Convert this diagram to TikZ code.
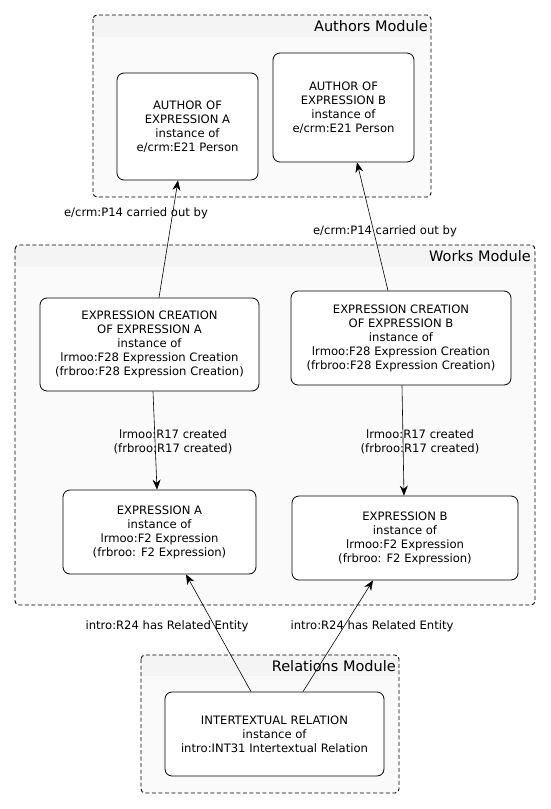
\documentclass[tikz,border=0pt]{standalone}
\usepackage{fontspec}
\setmainfont{DejaVu Sans}
\usetikzlibrary{arrows.meta}

\tikzset{
  entity/.style={draw, rounded corners=7pt, fill=white, align=center, line width=0.8pt, inner sep=2pt, font=\fontsize{11.6}{14}\selectfont},
  rel/.style={-{Stealth[length=10pt,width=8pt]}, line width=0.6pt},
  rellabel/.style={align=center, inner sep=1pt, font=\fontsize{11.6}{14}\selectfont},
  modtitle/.style={anchor=base east, inner sep=0pt, font=\fontsize{14.5}{17}\selectfont},
  modframe/.style={draw, dash pattern=on 4pt off 2.5pt, line width=0.9pt, rounded corners=4pt},
}

\begin{document}
\begin{tikzpicture}[x=1pt,y=-1pt]
      \useasboundingbox (0,0) rectangle (550,809);
      % Authors Module
      \begin{scope}
        \clip[rounded corners=4pt] (93,15) rectangle (431,197);
        \fill[gray!4] (93,15) rectangle (431,197);
        \fill[gray!9] (93,15) rectangle (431,37);
      \end{scope}
      \draw[modframe] (93,15) rectangle (431,197);
      \node[modtitle] (authorsT) at (428,31) {Authors Module};
      % Works Module
      \begin{scope}
        \clip[rounded corners=4pt] (15,245) rectangle (535,605);
        \fill[gray!4] (15,245) rectangle (535,605);
        \fill[gray!9] (15,245) rectangle (535,267);
      \end{scope}
      \draw[modframe] (15,245) rectangle (535,605);
      \node[modtitle] (worksT) at (531,261) {Works Module};
      % Relations Module
      \begin{scope}
        \clip[rounded corners=4pt] (141,655) rectangle (399,793);
        \fill[gray!4] (141,655) rectangle (399,793);
        \fill[gray!9] (141,655) rectangle (399,676);
      \end{scope}
      \draw[modframe] (141,655) rectangle (399,793);
      \node[modtitle] (relationsT) at (396,671) {Relations Module};

      \node[entity, minimum width=141pt, minimum height=107pt] (authorA) at (187.5,126.5)
        {AUTHOR OF\\EXPRESSION A\\instance of\\e/crm:E21 Person};
      \node[entity, minimum width=141pt, minimum height=109pt] (authorB) at (343.5,107.5)
        {AUTHOR OF\\EXPRESSION B\\instance of\\e/crm:E21 Person};
      \node[entity, minimum width=219pt, minimum height=93pt] (creaA) at (149.5,344.5)
        {EXPRESSION CREATION\\OF EXPRESSION A\\instance of\\lrmoo:F28 Expression Creation\\(frbroo:F28 Expression Creation)};
      \node[entity, minimum width=220pt, minimum height=94pt] (creaB) at (401,338)
        {EXPRESSION CREATION\\OF EXPRESSION B\\instance of\\lrmoo:F28 Expression Creation\\(frbroo:F28 Expression Creation)};
      \node[entity, minimum width=193pt, minimum height=84pt] (exprA) at (159.5,532)
        {EXPRESSION A\\instance of\\lrmoo:F2 Expression\\(frbroo: F2 Expression)};
      \node[entity, minimum width=226pt, minimum height=84pt] (exprB) at (405,538)
        {EXPRESSION B\\instance of\\lrmoo:F2 Expression\\(frbroo: F2 Expression)};
      \node[entity, minimum width=219pt, minimum height=84pt] (inter) at (274.5,734)
        {INTERTEXTUAL RELATION\\instance of\\intro:INT31 Intertextual Relation};

      \draw[rel] ([xshift=9.5pt]creaA.north) -- ([xshift=-9.5pt]authorA.south);
      \draw[rel] ([xshift=-13pt]creaB.north) -- ([xshift=13.5pt]authorB.south);
      \draw[rel] ([xshift=3.5pt]creaA.south) -- ([xshift=-2.5pt]exprA.north);
      \draw[rel] ([xshift=1pt]creaB.south) -- ([xshift=-1pt]exprB.north);
      \draw[rel] ([xshift=-23.5pt]inter.north) -- ([xshift=26.5pt]exprA.south);
      \draw[rel] ([xshift=28.5pt]inter.north) -- ([xshift=-32pt]exprB.south);

      \node[rellabel] (p14a) at (136,213) {e/crm:P14 carried out by};
      \node[rellabel] (p14b) at (385,231) {e/crm:P14 carried out by};
      \node[rellabel] (r17a) at (173,442) {lrmoo:R17 created\\(frbroo:R17 created)};
      \node[rellabel] (r17b) at (420,442) {lrmoo:R17 created\\(frbroo:R17 created)};
      \node[rellabel] (r24a) at (167,626) {intro:R24 has Related Entity};
      \node[rellabel] (r24b) at (372,626) {intro:R24 has Related Entity};
\end{tikzpicture}
\end{document}
